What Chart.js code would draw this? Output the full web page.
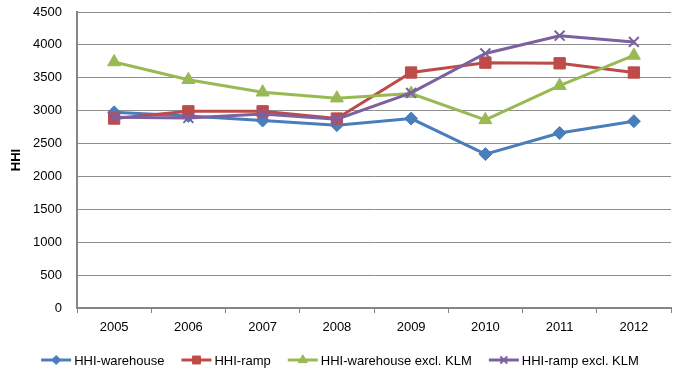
<!DOCTYPE html>
<html>
<head>
<meta charset="utf-8">
<script src="https://cdn.jsdelivr.net/npm/chart.js@4/dist/chart.umd.min.js"></script>
<style>
  html, body { margin: 0; padding: 0; background: #ffffff; }
  #wrap { width: 673px; height: 371px; }
</style>
</head>
<body>
<div id="wrap"><canvas id="c" width="673" height="371"></canvas></div>
<script>
// Categories and series
const years = ['2005', '2006', '2007', '2008', '2009', '2010', '2011', '2012'];
const hhiWarehouse        = [2975, 2920, 2850, 2780, 2880, 2340, 2660, 2840];
const hhiRamp             = [2880, 2990, 2990, 2880, 3580, 3730, 3720, 3580];
const hhiWarehouseExclKlm = [3740, 3470, 3280, 3190, 3260, 2860, 3380, 3840];
const hhiRampExclKlm      = [2900, 2890, 2950, 2870, 3270, 3870, 4140, 4045];
const seriesNames = ['HHI-warehouse', 'HHI-ramp', 'HHI-warehouse excl. KLM', 'HHI-ramp excl. KLM'];
const yMin = 0, yMax = 4500, yStep = 500;

const FONT = "'Liberation Sans', Arial, sans-serif";
const AXIS_GREY = '#868686';

const styles = [
  { color: '#4A7EBB', point: 'rectRot',  radius: 6.5 },
  { color: '#BE4B48', point: 'rect',     radius: 8 },
  { color: '#98B954', point: 'triangle', radius: 7.5 },
  { color: '#7D60A0', point: 'crossRot', radius: 7 }
];
const seriesData = [hhiWarehouse, hhiRamp, hhiWarehouseExclKlm, hhiRampExclKlm];

const datasets = seriesData.map((d, i) => ({
  label: seriesNames[i],
  data: d,
  borderColor: styles[i].color,
  backgroundColor: styles[i].color,
  borderWidth: 3,
  pointStyle: styles[i].point,
  pointRadius: styles[i].radius,
  pointHoverRadius: styles[i].radius,
  pointBorderWidth: styles[i].point === 'crossRot' ? 2 : 1,
  pointBorderColor: styles[i].color,
  pointBackgroundColor: styles[i].color,
  tension: 0,
  order: 3 - i
}));

// Legend drawn below the axis: short line with the series marker, then the name
const lineLegend = {
  id: 'lineLegend',
  afterDraw(chart) {
    const ctx = chart.ctx;
    const y = 360;
    const lineLen = 30, gapText = 3, gapItem = 17;
    ctx.save();
    ctx.font = '13px ' + FONT;
    const widths = seriesNames.map(n => ctx.measureText(n).width);
    let total = 0;
    widths.forEach(w => total += lineLen + gapText + w);
    total += gapItem * (widths.length - 1);
    let x = 340 - total / 2;
    seriesNames.forEach((name, i) => {
      const st = styles[i];
      ctx.strokeStyle = st.color;
      ctx.lineWidth = 3;
      ctx.beginPath();
      ctx.moveTo(x, y);
      ctx.lineTo(x + lineLen, y);
      ctx.stroke();
      ctx.fillStyle = st.color;
      ctx.lineWidth = st.point === 'crossRot' ? 2 : 1;
      Chart.helpers.drawPoint(ctx, {
        pointStyle: st.point,
        radius: st.radius * 0.7,
        rotation: 0,
        borderWidth: ctx.lineWidth
      }, x + lineLen / 2, y);
      ctx.fillStyle = '#000000';
      ctx.textBaseline = 'middle';
      ctx.textAlign = 'left';
      ctx.fillText(name, x + lineLen + gapText, y + 1);
      x += lineLen + gapText + widths[i] + gapItem;
    });
    ctx.restore();
  }
};

new Chart(document.getElementById('c'), {
  type: 'line',
  data: { labels: years, datasets },
  options: {
    responsive: false,
    animation: false,
    devicePixelRatio: 1,
    layout: { autoPadding: false, padding: { top: 12, right: 2, left: 0, bottom: 0 } },
    plugins: {
      legend: { display: false },
      tooltip: { enabled: false }
    },
    scales: {
      x: {
        offset: true,
        grid: {
          offset: true,
          drawOnChartArea: false,
          drawTicks: true,
          tickLength: 5,
          color: AXIS_GREY,
          lineWidth: 1
        },
        border: { color: AXIS_GREY, width: 2 },
        ticks: {
          color: '#000000',
          font: { family: FONT, size: 13 },
          padding: 7,
          maxRotation: 0
        },
        afterFit(scale) { scale.height = 63; }
      },
      y: {
        min: yMin,
        max: yMax,
        grid: {
          color: '#8E8E8E',
          lineWidth: 1,
          drawTicks: true,
          tickLength: 13,
          tickColor: 'rgba(0,0,0,0)'
        },
        border: { color: AXIS_GREY, width: 2 },
        ticks: {
          stepSize: yStep,
          color: '#000000',
          font: { family: FONT, size: 13 },
          padding: 2,
          callback: (v) => String(v)
        },
        title: {
          display: true,
          text: 'HHI',
          color: '#000000',
          font: { family: FONT, size: 13, weight: 'bold' },
          padding: { top: 9, bottom: 0 }
        },
        afterFit(scale) { scale.width = 77; }
      }
    }
  },
  plugins: [lineLegend]
});
</script>
</body>
</html>
